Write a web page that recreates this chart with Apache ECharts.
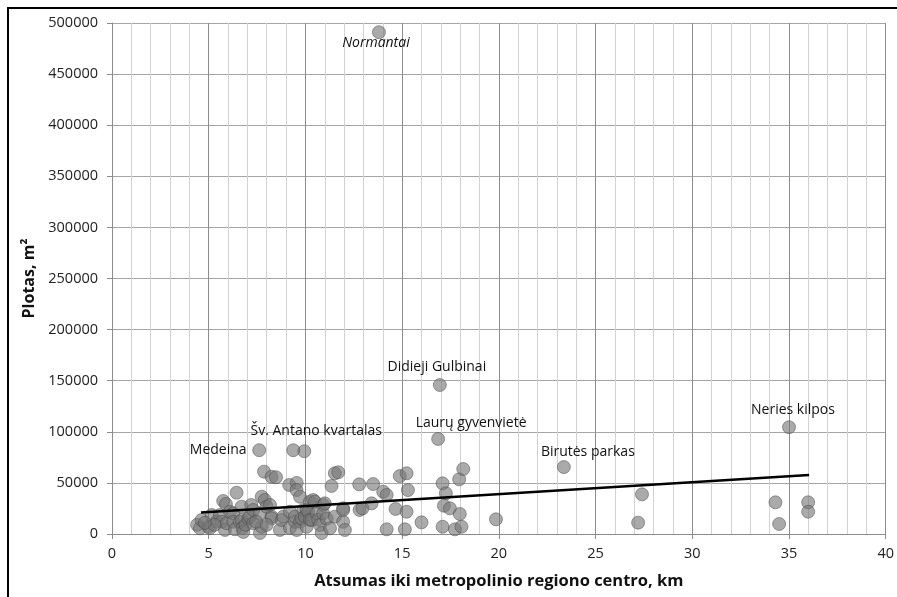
<!DOCTYPE html>
<html>
<head>
<meta charset="utf-8">
<script src="https://cdn.jsdelivr.net/npm/echarts@6/dist/echarts.min.js"></script>
<style>html,body{margin:0;padding:0;background:#fff}#c{width:897px;height:597px}</style>
</head>
<body>
<div id="c"></div>
<script>
// distance to metropolitan centre (km)
const distKm = [
  4.4,4.55,4.63,4.98,5.06,5.15,5.41,5.58,5.67,5.75,5.84,5.89,5.93,6.1,6.27,6.27,6.36,6.44,6.61,6.7,6.7,6.75,6.79,6.9,5.3,4.8,
  7.05,7.13,7.2,7.3,7.3,7.65,7.65,7.74,7.74,7.86,7.9,7.99,8.17,8.25,8.25,8.25,8.48,8.68,8.77,8.85,7.45,8.0,
  9.16,9.2,9.2,9.46,9.46,9.55,9.54,9.72,9.72,9.55,9.8,9.89,9.94,9.97,10.06,10.06,10.15,10.23,10.23,10.32,10.4,10.49,10.58,10.66,10.75,10.84,10.92,10.92,11.0,11.1,
  11.27,11.35,11.52,11.7,11.52,11.95,11.95,11.95,12.04,12.78,12.8,12.95,13.42,13.5,
  14.02,14.2,14.2,14.66,14.88,15.23,15.3,15.23,15.14,16.0,17.09,17.26,17.16,17.47,17.09,17.73,17.95,17.98,18.07,18.16,19.85,
  27.2,27.4,34.3,34.49,35.99,35.99
];
// area (m2)
const areaM2 = [
  9000,5600,13700,7100,5600,18600,12000,18600,12000,32300,4000,29400,10500,21800,20200,12000,4600,40400,12000,26700,13700,5900,2000,9000,9000,11000,
  15300,17000,28400,23500,10500,20200,1000,36500,7100,61000,33300,26700,28400,56000,17000,15300,55500,4000,13700,17000,12000,9000,
  48000,21800,6000,12000,17000,50000,43000,36500,12000,3900,15300,23500,81000,17000,7000,23500,21800,31600,14000,13700,33300,31600,20200,14000,8800,1000,28400,20200,30000,15000,
  5600,47000,59400,60400,17000,25100,12000,23500,3900,48600,23500,25100,30000,48900,
  41400,38200,4600,24500,56700,59400,43000,21800,4600,11400,49600,39800,27700,25100,7100,4600,53500,19600,7100,63600,14400,
  11100,38800,31000,9800,31000,21800
];
// labelled settlements
const namedNames = ["Normantai","Didieji Gulbinai","Laurų gyvenvietė","Birutės parkas","Neries kilpos","Medeina","Šv. Antano kvartalas"];
const namedKm    = [13.8, 16.95, 16.86, 23.36, 35.0, 7.61, 9.37];
const namedArea  = [491000, 145800, 93000, 65500, 104500, 82000, 82000];
// trend line end points
const trendKm   = [4.6, 36.04];
const trendArea = [21000, 57700];

const labelOffsets = [[-3,11],[-3,-18],[33,-16],[24,-15],[4,-17],[-41,0],[23,-19]];
const italic = [true,false,false,false,false,false,false];

const FONT = "Open Sans";
const pts = distKm.map((x,i)=>[x, areaM2[i]]);
const named = namedNames.map((n,i)=>({
  name:n, value:[namedKm[i], namedArea[i]],
  label:{show:true, formatter:'{b}', position:'inside', offset:labelOffsets[i],
    fontStyle: italic[i]?'italic':'normal', color:'#111', fontSize:14, fontFamily:FONT,
    textBorderWidth:0, textBorderColor:'transparent', opacity:1}
}));
const pointStyle = {color:'rgba(118,118,118,0.78)', borderColor:'rgba(70,70,70,0.6)', borderWidth:1};

const chart = echarts.init(document.getElementById('c'), null, {renderer:'canvas'});
chart.setOption({
  animation:false,
  backgroundColor:'#fff',
  textStyle:{fontFamily:FONT},
  grid:{left:112, right:11, top:23, bottom:63, containLabel:false},
  xAxis:{
    type:'value', min:0, max:40, interval:5,
    name:'Atsumas iki metropolinio regiono centro, km', nameLocation:'middle', nameGap:39,
    nameTextStyle:{fontWeight:'bold', fontSize:16.5, color:'#111', fontFamily:FONT},
    axisLine:{show:true, onZero:false, lineStyle:{color:'#8c8c8c', width:1}},
    axisTick:{show:true, length:5, lineStyle:{color:'#8c8c8c'}},
    axisLabel:{margin:12, fontSize:14.5, color:'#222', fontFamily:FONT},
    splitLine:{show:true, lineStyle:{color:'#8c8c8c', width:1}},
    minorTick:{show:false, splitNumber:5},
    minorSplitLine:{show:true, lineStyle:{color:'#d2d2d2', width:1}}
  },
  yAxis:{
    type:'value', min:0, max:500000, interval:50000,
    name:'Plotas, m²', nameLocation:'middle', nameGap:75, nameRotate:90,
    nameTextStyle:{fontWeight:'bold', fontSize:16, color:'#111', fontFamily:FONT},
    axisLine:{show:true, lineStyle:{color:'#8c8c8c', width:1}},
    axisTick:{show:true, length:5, lineStyle:{color:'#8c8c8c'}},
    axisLabel:{margin:14, fontSize:14.5, color:'#222', fontFamily:FONT, formatter:v=>String(v)},
    splitLine:{show:true, lineStyle:{color:'#a6a6a6', width:1}}
  },
  series:[
    {type:'scatter', data:pts, symbol:'circle', symbolSize:13, itemStyle:pointStyle, silent:true, z:3},
    {type:'scatter', data:named, symbol:'circle', symbolSize:13, itemStyle:pointStyle, silent:true, z:3},
    {type:'line', data:trendKm.map((x,i)=>[x, trendArea[i]]), symbol:'none', silent:true,
      lineStyle:{color:'#000', width:2.5}, z:5}
  ],
  graphic:[{type:'rect', shape:{x:8, y:8, width:900, height:600}, style:{fill:'none', stroke:'#000', lineWidth:2}, silent:true, z:10}]
});
</script>
</body>
</html>
